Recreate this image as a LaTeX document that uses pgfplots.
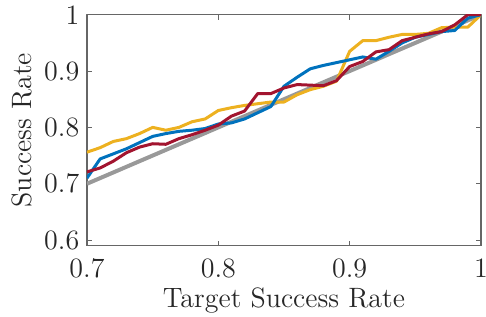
\documentclass[border=0pt]{standalone}
\usepackage{pgfplots}
\pgfplotsset{compat=1.18}
\definecolor{mblue}{rgb}{0,0.447,0.741}
\definecolor{myellow}{rgb}{0.929,0.694,0.125}
\definecolor{mred}{rgb}{0.635,0.078,0.184}
\definecolor{mgray}{rgb}{0.6,0.6,0.6}
\definecolor{axgray}{rgb}{0.4,0.4,0.4}
\begin{document}
\fontsize{14}{16.5}\selectfont
\begin{tikzpicture}
\useasboundingbox (-43.5pt,-35.15pt) rectangle (199.5pt,122.85pt);
\begin{axis}[
  at={(0,0)}, anchor=south west,
  scale only axis,
  width=197pt, height=115.5pt,
  xmin=0.7, xmax=1, ymin=0.59, ymax=1,
  xtick={0.7,0.8,0.9,1}, ytick={0.6,0.7,0.8,0.9,1},
  xticklabels={0.7,0.8,0.9,1}, yticklabels={0.6,0.7,0.8,0.9,1},
  tick align=inside, major tick length=2.5pt,
  axis line style={axgray, line width=0.6pt},
  every tick/.style={axgray, line width=0.5pt},
  tick label style={font=\fontsize{14}{16.5}\selectfont, text=black!85},
  xticklabel style={yshift=-1.5pt},
  yticklabel style={xshift=1pt},
  label style={font=\fontsize{14}{16.5}\selectfont, text=black!85},
  xlabel={Target Success Rate}, ylabel={Success Rate},
  xlabel style={at={(axis description cs:0.5,0)}, anchor=base, yshift=-31pt},
  ylabel style={yshift=-3.5pt},
  line join=round,
]
\addplot[mgray, line width=2pt] coordinates {(0.7,0.7) (1,1)};
\addplot[myellow, line width=1.5pt] coordinates {
(0.70,0.756) (0.71,0.764) (0.72,0.775) (0.73,0.780) (0.74,0.789) (0.75,0.800)
(0.76,0.795) (0.77,0.800) (0.78,0.810) (0.79,0.815) (0.80,0.830) (0.81,0.835)
(0.82,0.839) (0.83,0.842) (0.84,0.845) (0.85,0.845) (0.86,0.858) (0.87,0.867)
(0.88,0.873) (0.89,0.882) (0.90,0.935) (0.91,0.954) (0.92,0.954) (0.93,0.960)
(0.94,0.965) (0.95,0.965) (0.96,0.967) (0.97,0.977) (0.98,0.978) (0.99,0.978) (1.00,1.0)};
\addplot[mblue, line width=1.5pt] coordinates {
(0.70,0.710) (0.71,0.744) (0.72,0.753) (0.73,0.762) (0.74,0.773) (0.75,0.784)
(0.76,0.789) (0.77,0.793) (0.78,0.795) (0.79,0.798) (0.80,0.806) (0.81,0.808)
(0.82,0.815) (0.83,0.826) (0.84,0.837) (0.85,0.873) (0.86,0.889) (0.87,0.904)
(0.88,0.910) (0.89,0.915) (0.90,0.920) (0.91,0.925) (0.92,0.921) (0.93,0.935)
(0.94,0.950) (0.95,0.960) (0.96,0.965) (0.97,0.970) (0.98,0.972) (0.99,0.994) (1.00,1.0)};
\addplot[mred, line width=1.5pt] coordinates {
(0.70,0.721) (0.71,0.728) (0.72,0.740) (0.73,0.755) (0.74,0.765) (0.75,0.771)
(0.76,0.770) (0.77,0.780) (0.78,0.787) (0.79,0.795) (0.80,0.804) (0.81,0.820)
(0.82,0.829) (0.83,0.860) (0.84,0.860) (0.85,0.870) (0.86,0.876) (0.87,0.875)
(0.88,0.874) (0.89,0.883) (0.90,0.908) (0.91,0.917) (0.92,0.934) (0.93,0.938)
(0.94,0.954) (0.95,0.960) (0.96,0.966) (0.97,0.970) (0.98,0.982) (0.99,1.0) (1.00,1.0)};
\end{axis}
\end{tikzpicture}
\end{document}
